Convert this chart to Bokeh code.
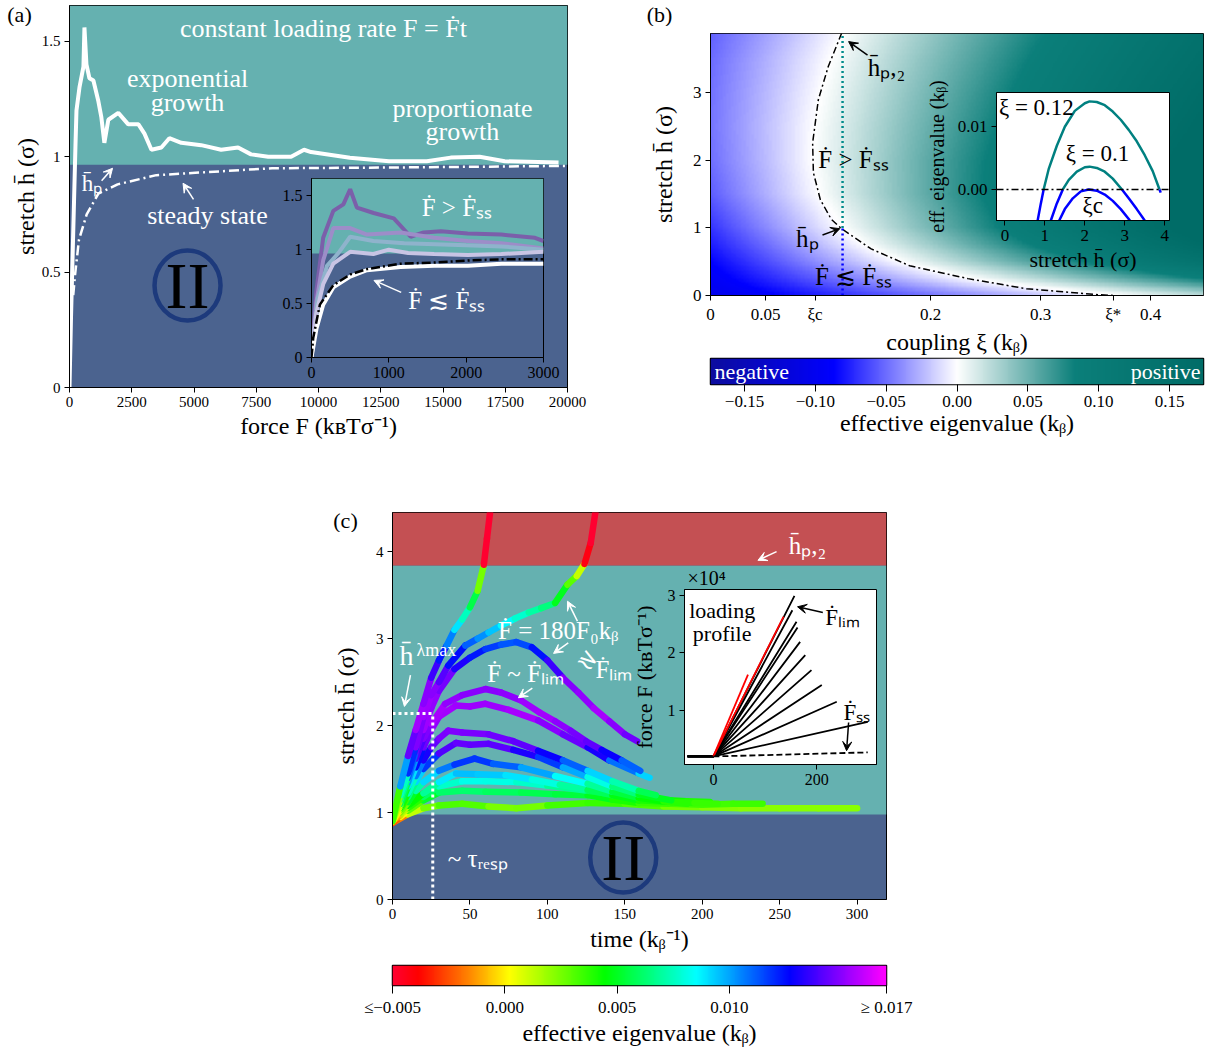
import numpy as np
from bokeh.plotting import figure
from bokeh.layouts import column
from bokeh.models import (Range1d, FixedTicker, Label, Arrow, VeeHead, BoxAnnotation,
                          Span, LinearColorMapper, ColumnDataSource)
from bokeh.transform import transform
from bokeh.embed import file_html
from bokeh.resources import INLINE

FONT = "Liberation Serif"
TEAL = "#65b1b0"
DBLUE = "#4b638f"
RED_BG = "#c45053"
NAVY = "#1d3a7c"
HB = "h\u0304"
FD = "\u1E1E"

# ---------------- panel (a) data ----------------
a_F = [0, 60, 120, 180, 240, 280, 400, 560, 600, 680, 800, 960, 1160, 1280, 1400, 1560, 1960,
       2360, 2770, 3010, 3290, 3690, 4010, 4490, 5290, 6090, 6770, 7290, 7980, 8900, 9420, 9700,
       11260, 12830, 14350, 15310, 16470, 17480, 19640]
a_h = [0, 0.3, 0.55, 0.8, 1.05, 1.2, 1.30, 1.39, 1.56, 1.40, 1.34, 1.33, 1.24, 1.17, 1.06, 1.16,
       1.19, 1.14, 1.14, 1.10, 1.03, 1.04, 1.08, 1.06, 1.05, 1.03, 1.04, 1.01, 1.00, 1.00, 1.03,
       1.02, 0.995, 0.98, 0.98, 0.996, 1.0, 0.98, 0.975]
ss_F = [150, 225, 380, 690, 1160, 1930, 3490, 5050, 8140, 12830, 20000]
ss_h = [0.40, 0.49, 0.64, 0.75, 0.84, 0.88, 0.92, 0.93, 0.95, 0.953, 0.96]
HP_A = 0.965
a_xticks = [0, 2500, 5000, 7500, 10000, 12500, 15000, 17500, 20000]
a_xlabels = ["0", "2500", "5000", "7500", "10000", "12500", "15000", "17500", "20000"]
a_yticks = [0, 0.5, 1, 1.5]
a_ylabels = ["0", "0.5", "1", "1.5"]

# inset (a)
ia_F_dp = [0, 60, 151, 282, 412, 500, 587, 803, 1064, 1282, 1450, 1673, 2020, 2455, 2890, 3000]
ia_h_dp = [0, 0.6, 1.11, 1.36, 1.42, 1.56, 1.39, 1.34, 1.29, 1.12, 1.16, 1.17, 1.15, 1.14, 1.11, 1.08]
ia_F_lp = [0, 60, 151, 282, 500, 717, 1152, 1586, 2020, 2455, 3000]
ia_h_lp = [0, 0.5, 0.9, 1.2, 1.2, 1.14, 1.16, 1.11, 1.08, 1.06, 1.01]
ia_F_tl = [0, 80, 200, 350, 500, 800, 1200, 1600, 2000, 2455, 3000]
ia_h_tl = [0, 0.55, 0.85, 0.97, 1.12, 1.08, 1.06, 1.05, 1.04, 1.03, 1.0]
ia_F_ll = [0, 60, 151, 282, 500, 800, 1000, 1250, 1586, 2020, 2455, 3000]
ia_h_ll = [0, 0.4, 0.68, 0.87, 0.98, 0.96, 1.0, 0.97, 0.96, 0.95, 0.96, 0.98]
ia_F_wh = [0, 65, 151, 282, 500, 717, 1152, 1586, 2020, 2455, 3000]
ia_h_wh = [0, 0.27, 0.49, 0.65, 0.75, 0.81, 0.84, 0.85, 0.85, 0.87, 0.87]
ia_F_ss = [0, 22, 108, 282, 500, 717, 1152, 1586, 2020, 2455, 3000]
ia_h_ss = [0, 0.18, 0.49, 0.67, 0.77, 0.82, 0.87, 0.88, 0.90, 0.91, 0.91]
ia_xticks = [0, 1000, 2000, 3000]
ia_xlabels = ["0", "1000", "2000", "3000"]

# ---------------- panel (b) data ----------------
XI_MAX = 0.448
H_MAX_B = 3.88
heat_xi = [0, 0.05, 0.1, 0.15, 0.2, 0.25, 0.3, 0.35, 0.4, 0.45]
heat_h = [0, 0.25, 0.5, 0.75, 1.0, 1.5, 2.0, 2.5, 3.0, 3.5, 3.9]
heat_vals = [
    [-0.103, -0.089, -0.075, -0.061, -0.047, -0.033, -0.019, -0.005, 0.010, 0.024],
    [-0.094, -0.074, -0.054, -0.034, -0.014, 0.006, 0.026, 0.046, 0.066, 0.086],
    [-0.086, -0.061, -0.036, -0.011, 0.014, 0.039, 0.064, 0.089, 0.114, 0.139],
    [-0.077, -0.050, -0.022, 0.006, 0.033, 0.061, 0.088, 0.116, 0.143, 0.171],
    [-0.069, -0.040, -0.011, 0.018, 0.047, 0.076, 0.105, 0.134, 0.163, 0.192],
    [-0.055, -0.027, 0.001, 0.029, 0.057, 0.085, 0.113, 0.141, 0.169, 0.197],
    [-0.049, -0.023, 0.004, 0.030, 0.057, 0.083, 0.110, 0.136, 0.163, 0.189],
    [-0.047, -0.022, 0.003, 0.028, 0.053, 0.078, 0.103, 0.128, 0.153, 0.178],
    [-0.048, -0.024, 0.000, 0.024, 0.048, 0.072, 0.096, 0.120, 0.144, 0.168],
    [-0.050, -0.027, -0.004, 0.019, 0.042, 0.065, 0.088, 0.111, 0.134, 0.157],
    [-0.054, -0.032, -0.009, 0.014, 0.036, 0.059, 0.081, 0.104, 0.126, 0.149],
]
contour_xi = [0.1192, 0.107, 0.098, 0.0928, 0.0935, 0.0998, 0.1097, 0.119, 0.146, 0.181, 0.234, 0.287, 0.354, 0.368]
contour_h = [3.886, 3.39, 2.9, 2.26, 1.82, 1.42, 1.13, 0.99, 0.69, 0.44, 0.25, 0.10, 0.01, 0.0]
XI_SEL = 0.12
HP_B = 1.0
b_xticks = [0, 0.05, 0.095, 0.2, 0.3, 0.366, 0.4]
b_xlabels = ["0", "0.05", "\u03bec", "0.2", "0.3", "\u03be*", "0.4"]
b_yticks = [0, 1, 2, 3]
b_ylabels = ["0", "1", "2", "3"]
CB_B_LOW, CB_B_HIGH = -0.174, 0.174
cbb_ticks = [-0.15, -0.10, -0.05, 0.0, 0.05, 0.10, 0.15]
cbb_labels = ["\u22120.15", "\u22120.10", "\u22120.05", "0.00", "0.05", "0.10", "0.15"]

# inset (b): effective eigenvalue vs stretch
ib_h_12_neg = [0.82, 0.9, 0.97]
ib_e_12_neg = [-0.0049, -0.0022, 0.0]
ib_h_12 = [0.97, 1.1, 1.3, 1.5, 1.75, 2.0, 2.12, 2.3, 2.5, 2.7, 2.9, 3.1, 3.3, 3.5, 3.7, 3.87]
ib_e_12 = [0.0, 0.0033, 0.0069, 0.0099, 0.0124, 0.0136, 0.0139, 0.0138, 0.0133, 0.0123, 0.0110,
           0.0094, 0.0076, 0.0054, 0.0029, 0.0]
ib_h_12_end = [3.87, 3.9]
ib_e_12_end = [0.0, -0.0005]
ib_h_10_negl = [1.15, 1.3, 1.45]
ib_e_10_negl = [-0.0049, -0.0022, 0.0]
ib_h_10 = [1.45, 1.6, 1.8, 2.0, 2.12, 2.3, 2.5, 2.7, 2.93]
ib_e_10 = [0.0, 0.0015, 0.0028, 0.0035, 0.0036, 0.0034, 0.0028, 0.0017, 0.0]
ib_h_10_negr = [2.93, 3.1, 3.3, 3.5]
ib_e_10_negr = [0.0, -0.0014, -0.0031, -0.0049]
ib_h_c = [1.36, 1.5, 1.7, 1.9, 2.1, 2.3, 2.5, 2.7, 2.9, 3.13]
ib_e_c = [-0.0049, -0.0031, -0.0014, -0.0003, 0.0, -0.0002, -0.0008, -0.0018, -0.0031, -0.0049]
ib_xticks = [0, 1, 2, 3, 4]
ib_xlabels = ["0", "1", "2", "3", "4"]
ib_yticks = [0.0, 0.01]
ib_ylabels = ["0.00", "0.01"]

# ---------------- panel (c) data ----------------
HP_C = 0.977
HP2_C = 3.84
H_LMAX = 2.14
TAU_RESP = 26
c_t_r1 = [0, 5, 10, 15, 20, 25, 30, 35, 40, 45, 50, 55, 59, 61, 63]
c_h_r1 = [0.9, 1.3, 1.65, 1.95, 2.25, 2.55, 2.75, 2.92, 3.1, 3.22, 3.36, 3.55, 3.85, 4.15, 4.45]
c_t_r2 = [0, 5, 10, 15, 20, 25, 30, 36, 47, 55, 62, 70, 79, 88, 96, 105, 113, 119, 124, 128, 131]
c_h_r2 = [0.9, 1.2, 1.45, 1.75, 2.1, 2.35, 2.5, 2.69, 2.92, 3.0, 3.07, 3.15, 3.23, 3.3, 3.35, 3.41,
          3.62, 3.72, 3.86, 4.1, 4.45]
c_t_3 = [0, 5, 10, 15, 20, 25, 30, 40, 50, 60, 70, 80, 90, 100, 110, 120, 130, 140, 150, 158]
c_h_3 = [0.9, 1.15, 1.4, 1.7, 1.95, 2.2, 2.4, 2.65, 2.78, 2.88, 2.93, 2.96, 2.9, 2.75, 2.55, 2.38,
         2.2, 2.05, 1.9, 1.82]
c_t_4 = [0, 5, 10, 15, 20, 25, 34, 45, 60, 70, 83, 95, 105, 115, 125, 135, 148, 160]
c_h_4 = [0.9, 1.1, 1.35, 1.62, 1.85, 2.02, 2.25, 2.35, 2.42, 2.38, 2.29, 2.15, 2.05, 1.94, 1.82,
         1.72, 1.6, 1.48]
c_t_5 = [0, 5, 10, 15, 20, 25, 30, 41, 50, 60, 75, 94, 110, 126, 140, 159, 166]
c_h_5 = [0.9, 1.08, 1.3, 1.52, 1.75, 1.95, 2.1, 2.23, 2.22, 2.25, 2.18, 2.06, 1.9, 1.75, 1.6, 1.45, 1.4]
c_t_6 = [0, 5, 10, 15, 20, 25, 30, 36, 45, 62, 78, 94, 110, 126, 142, 159, 170]
c_h_6 = [0.9, 1.05, 1.22, 1.42, 1.6, 1.75, 1.85, 1.94, 1.92, 1.9, 1.82, 1.71, 1.6, 1.48, 1.36, 1.25, 1.2]
c_t_7 = [0, 5, 10, 15, 20, 30, 41, 50, 62, 78, 94, 110, 126, 142, 159, 180]
c_h_7 = [0.9, 1.03, 1.18, 1.35, 1.5, 1.68, 1.8, 1.78, 1.79, 1.72, 1.64, 1.52, 1.41, 1.3, 1.21, 1.14]
c_t_8 = [0, 5, 10, 15, 20, 30, 40, 53, 65, 83, 105, 126, 142, 159, 175, 190]
c_h_8 = [0.9, 1.0, 1.12, 1.25, 1.35, 1.48, 1.55, 1.62, 1.56, 1.52, 1.42, 1.33, 1.24, 1.17, 1.13, 1.1]
c_t_9 = [0, 5, 10, 20, 30, 41, 55, 73, 90, 108, 126, 142, 159, 180, 195, 210]
c_h_9 = [0.9, 0.98, 1.08, 1.22, 1.35, 1.45, 1.44, 1.43, 1.38, 1.32, 1.26, 1.2, 1.14, 1.12, 1.11, 1.1]
c_t_10 = [0, 5, 10, 20, 30, 45, 60, 80, 100, 126, 150, 170, 190, 205]
c_h_10 = [0.9, 0.97, 1.05, 1.18, 1.3, 1.36, 1.36, 1.35, 1.31, 1.25, 1.19, 1.15, 1.13, 1.12]
c_t_11 = [0, 5, 10, 20, 30, 45, 60, 83, 105, 126, 142, 159, 180, 200, 220, 239]
c_h_11 = [0.88, 0.95, 1.02, 1.14, 1.23, 1.25, 1.24, 1.23, 1.21, 1.2, 1.15, 1.11, 1.1, 1.09, 1.1, 1.1]
c_t_12 = [0, 10, 20, 30, 45, 62, 80, 100, 126, 150, 175, 200, 225, 250, 275, 300]
c_h_12 = [0.88, 0.98, 1.05, 1.08, 1.1, 1.07, 1.05, 1.08, 1.11, 1.1, 1.07, 1.06, 1.05, 1.05, 1.05, 1.05]
# eigenvalue along the stretch axis used for colouring the trajectories
lut_h = [0.8, 0.9, 0.97, 1.1, 1.3, 1.5, 1.75, 2.12, 2.5, 2.9, 3.3, 3.6, 3.87, 4.0, 4.45]
lut_e = [-0.006, -0.003, 0.0, 0.0035, 0.0072, 0.0105, 0.0142, 0.0155, 0.0148, 0.0118, 0.0074,
         0.0040, 0.0, -0.005, -0.008]
c_xticks = [0, 50, 100, 150, 200, 250, 300]
c_xlabels = ["0", "50", "100", "150", "200", "250", "300"]
c_yticks = [0, 1, 2, 3, 4]
c_ylabels = ["0", "1", "2", "3", "4"]
CB_C_LOW, CB_C_HIGH = -0.005, 0.017
cbc_ticks = [-0.005, 0.0, 0.005, 0.010, 0.017]
cbc_labels = ["\u2264\u22120.005", "0.000", "0.005", "0.010", "\u2265 0.017"]

# inset (c): loading profiles (force in units of 1e4)
T_FLAT = -50
F_FLAT = 0.2
lp_t_end = [157, 153, 161, 163, 168, 178, 190, 210, 239, 299]
lp_F_end = [2.99, 2.74, 2.54, 2.44, 2.19, 1.96, 1.70, 1.44, 1.15, 0.80]
lp_red_t_end = [136, 67]
lp_red_F_end = [2.63, 1.62]
lp_ss_t_end = 299
lp_ss_F_end = 0.27
ic_xticks = [0, 200]
ic_xlabels = ["0", "200"]
ic_yticks = [1, 2, 3]
ic_ylabels = ["1", "2", "3"]


# ---------------- helpers ----------------
def ramp(anchors, n=256):
    pos = [a[0] for a in anchors]
    rgb = [tuple(int(a[1][i:i + 2], 16) for i in (1, 3, 5)) for a in anchors]
    out = []
    for k in range(n):
        t = k / (n - 1)
        c = [int(round(np.interp(t, pos, [r[j] for r in rgb]))) for j in range(3)]
        out.append("#%02x%02x%02x" % tuple(c))
    return out


PAL_B = ramp([(0.0, "#0c0c9e"), (0.25, "#0000ff"), (0.5, "#ffffff"), (0.74, "#0b7f7a"), (1.0, "#006c67")])
PAL_C = ramp([(0.0, "#ff0030"), (0.05, "#ff0000"), (0.15, "#ff8000"), (0.235, "#ffff00"),
              (0.43, "#00ff00"), (0.615, "#00ffff"), (0.805, "#0000ff"), (1.0, "#ff00ff")])
cmap_b = LinearColorMapper(palette=PAL_B, low=CB_B_LOW, high=CB_B_HIGH)
cmap_c = LinearColorMapper(palette=PAL_C, low=CB_C_LOW, high=CB_C_HIGH)

BL, BR = 80, 40   # common left / right borders (frames are aligned by the column)


def make_fig(frame, tb, xr, yr, tick_size=15, **kw):
    x0, y0, x1, y1 = frame
    t, b = tb
    p = figure(width=x1 - x0 + BL + BR, height=y1 - y0 + t + b,
               x_range=Range1d(*xr), y_range=Range1d(*yr),
               min_border_left=BL, min_border_top=t, min_border_right=BR, min_border_bottom=b,
               output_backend="svg", toolbar_location=None, **kw)
    p.styles = {"position": "absolute", "left": f"{x0 - BL}px", "top": f"{y0 - t}px"}
    p.border_fill_alpha = 0
    p.grid.visible = False
    p.outline_line_color = "black"
    p.outline_line_alpha = 1
    p.outline_line_width = 1
    for ax in p.axis:
        ax.major_label_text_font = FONT
        ax.major_label_text_font_size = f"{tick_size}px"
        ax.major_label_text_color = "black"
        ax.axis_label_text_font = FONT
        ax.axis_label_text_font_size = "24px"
        ax.axis_label_text_font_style = "normal"
        ax.axis_label_text_color = "black"
        ax.minor_tick_line_color = None
        ax.major_tick_out = 5
        ax.major_tick_in = 0
        ax.major_label_standoff = 4
        ax.axis_line_color = "black"
    return p


def text_box(frame, text, size, align="center"):
    """A small axis-less canvas that carries a text placed outside the panels' frames."""
    p = make_fig(frame, (0, 0), (0, 1), (0, 1), x_axis_type=None, y_axis_type=None)
    p.background_fill_alpha = 0
    p.outline_line_color = None
    p.add_layout(Label(x=0.5 if align == "center" else 0.0, y=0.5, text=text, text_font=FONT,
                       text_font_size=f"{size}px", text_color="black", text_align=align,
                       text_baseline="middle"))
    return p


def set_ticks(ax, ticks, labels):
    ax.ticker = FixedTicker(ticks=list(ticks))
    ax.major_label_overrides = {t: s for t, s in zip(ticks, labels)}


def label(p, x, y, text, size, color, align="center", angle=0.0, x_offset=0):
    p.add_layout(Label(x=x, y=y, text=text, text_font=FONT, text_font_size=f"{size}px",
                       text_color=color, text_align=align, text_baseline="middle",
                       angle=angle, x_offset=x_offset))


def arrow(p, xs, ys, xe, ye, color, lw=1.5):
    p.add_layout(Arrow(x_start=xs, y_start=ys, x_end=xe, y_end=ye, line_color=color,
                       line_width=lw, end=VeeHead(size=9, fill_color=color, line_color=color)))


# ---------------- panel (a) ----------------
pA = make_fig((69, 5, 567, 387), (5, 62), (0, 20000), (0, 1.655))
pA.background_fill_color = DBLUE
pA.add_layout(BoxAnnotation(bottom=HP_A, fill_color=TEAL, fill_alpha=1, line_alpha=0, level="underlay"))
pA.line(a_F, a_h, line_color="white", line_width=4)
pA.line(ss_F, ss_h, line_color="white", line_width=2.5, line_dash="10 4 2 4")
set_ticks(pA.xaxis[0], a_xticks, a_xlabels)
set_ticks(pA.yaxis[0], a_yticks, a_ylabels)
pA.xaxis.axis_label = "force F (k\u0299T\u03c3\u207b\u00b9)"
pA.xaxis.axis_label_standoff = 3
pA.yaxis.axis_label = f"stretch {HB} (\u03c3)"
pA.yaxis.axis_label_standoff = 0
label(pA, 10200, 1.554, f"constant loading rate F = {FD}t", 26, "white")
label(pA, 4740, 1.338, "exponential", 26, "white")
label(pA, 4740, 1.234, "growth", 26, "white")
label(pA, 15780, 1.208, "proportionate", 26, "white")
label(pA, 15780, 1.108, "growth", 26, "white")
label(pA, 5540, 0.745, "steady state", 26, "white")
label(pA, 900, 0.885, f"{HB}\u209a", 23, "white")
arrow(pA, 1290, 0.896, 1730, 0.95, "white")
arrow(pA, 4980, 0.815, 4560, 0.885, "white")
pA.ellipse(x=[4740], y=[0.442], width=66, height=70, width_units="screen", height_units="screen",
           fill_alpha=0, line_color=NAVY, line_width=4.5)
label(pA, 4740, 0.442, "II", 66, "black")

# inset (a)
pIA = make_fig((311, 178, 543, 357), (5, 32), (0, 3000), (0, 1.66), tick_size=16)
pIA.background_fill_color = DBLUE
pIA.add_layout(BoxAnnotation(bottom=HP_A, fill_color=TEAL, fill_alpha=1, line_alpha=0, level="underlay"))
pIA.line(ia_F_dp, ia_h_dp, line_color="#7b5faa", line_width=4)
pIA.line(ia_F_lp, ia_h_lp, line_color="#9d8dc8", line_width=4)
pIA.line(ia_F_tl, ia_h_tl, line_color="#8fb3cc", line_width=4)
pIA.line(ia_F_ll, ia_h_ll, line_color="#c8c4e4", line_width=4)
pIA.line(ia_F_wh, ia_h_wh, line_color="white", line_width=4)
pIA.line(ia_F_ss, ia_h_ss, line_color="black", line_width=2.5, line_dash="9 3 2 3")
set_ticks(pIA.xaxis[0], ia_xticks, ia_xlabels)
set_ticks(pIA.yaxis[0], a_yticks, a_ylabels)
label(pIA, 1880, 1.39, f"{FD} > {FD}\u209b\u209b", 25, "white")
label(pIA, 1750, 0.53, f"{FD} \u2272 {FD}\u209b\u209b", 25, "white")
arrow(pIA, 1160, 0.604, 808, 0.715, "white")

# ---------------- panel (b) ----------------
pB = make_fig((710, 33, 1203, 297), (33, 60), (0, XI_MAX), (0, H_MAX_B), tick_size=17)
xi_fine = np.linspace(0, XI_MAX, 300)
h_fine = np.linspace(0, H_MAX_B, 200)
hv = np.array(heat_vals)
rows = np.array([np.interp(xi_fine, heat_xi, r) for r in hv])
field = np.array([np.interp(h_fine, heat_h, rows[:, j]) for j in range(len(xi_fine))]).T
pB.image(image=[field], x=0, y=0, dw=XI_MAX, dh=H_MAX_B, color_mapper=cmap_b)
pB.line(contour_xi, contour_h, line_color="black", line_width=1.5, line_dash="7 3 2 3")
pB.segment(x0=[XI_SEL], y0=[HP_B], x1=[XI_SEL], y1=[H_MAX_B], line_color="#008b8b",
           line_width=2.5, line_dash="2 3")
pB.segment(x0=[XI_SEL], y0=[0], x1=[XI_SEL], y1=[HP_B], line_color="#0000ff",
           line_width=2.5, line_dash="2 3")
set_ticks(pB.xaxis[0], b_xticks, b_xlabels)
set_ticks(pB.yaxis[0], b_yticks, b_ylabels)
pB.xaxis.axis_label = "coupling \u03be (k\u1d66)"
pB.xaxis.axis_label_standoff = 2
pB.yaxis.axis_label = f"stretch {HB} (\u03c3)"
pB.yaxis.axis_label_standoff = 13
label(pB, 0.130, 2.01, f"{FD} > {FD}\u209b\u209b", 25, "black")
label(pB, 0.130, 0.28, f"{FD} \u2272 {FD}\u209b\u209b", 25, "black")
label(pB, 0.143, 3.38, f"{HB}\u209a,\u2082", 25, "black", align="left")
arrow(pB, 0.1427, 3.56, 0.1255, 3.76, "black")
label(pB, 0.088, 0.84, f"{HB}\u209a", 25, "black")
arrow(pB, 0.1018, 0.897, 0.1175, 0.99, "black")

# colourbar (b)
pCB = make_fig((710, 358, 1203, 384), (4, 62), (CB_B_LOW, CB_B_HIGH), (0, 1), tick_size=17,
               y_axis_type=None)
pCB.image(image=[np.linspace(CB_B_LOW, CB_B_HIGH, 512)[None, :]], x=CB_B_LOW, y=0,
          dw=CB_B_HIGH - CB_B_LOW, dh=1, color_mapper=cmap_b)
set_ticks(pCB.xaxis[0], cbb_ticks, cbb_labels)
pCB.xaxis.major_tick_out = 7
pCB.xaxis.axis_line_color = None
pCB.xaxis.axis_label = "effective eigenvalue (k\u1d66)"
pCB.xaxis.axis_label_standoff = 0
pCB.outline_line_width = 1.5
label(pCB, CB_B_LOW, 0.5, "negative", 22, "white", align="left", x_offset=4)
label(pCB, CB_B_HIGH, 0.5, "positive", 22, "white", align="right", x_offset=-3)

# inset (b)
pIB = make_fig((996, 92, 1169, 222), (22, 52), (-0.21, 4.12), (-0.0049, 0.0153), tick_size=17)
pIB.background_fill_color = "white"
pIB.add_layout(Span(location=0, dimension="width", line_color="black", line_width=1.5,
                    line_dash="7 3 2 3"))
for hh, ee, col in [(ib_h_12_neg, ib_e_12_neg, "#0000ff"), (ib_h_12, ib_e_12, "#008080"),
                    (ib_h_12_end, ib_e_12_end, "#0000ff"), (ib_h_10_negl, ib_e_10_negl, "#0000ff"),
                    (ib_h_10, ib_e_10, "#008080"), (ib_h_10_negr, ib_e_10_negr, "#0000ff"),
                    (ib_h_c, ib_e_c, "#0000ff")]:
    pIB.line(hh, ee, line_color=col, line_width=2.5)
set_ticks(pIB.xaxis[0], ib_xticks, ib_xlabels)
set_ticks(pIB.yaxis[0], ib_yticks, ib_ylabels)
pIB.xaxis.axis_label = f"stretch {HB} (\u03c3)"
pIB.xaxis.axis_label_text_font_size = "22px"
pIB.xaxis.axis_label_standoff = 3
pIB.yaxis.axis_label = "eff. eigenvalue (k\u1d66)"
pIB.yaxis.axis_label_text_font_size = "20px"
pIB.yaxis.axis_label_standoff = 7
label(pIB, -0.15, 0.0129, "\u03be = 0.12", 23, "black", align="left")
label(pIB, 2.32, 0.0056, "\u03be = 0.1", 23, "black")
label(pIB, 2.2, -0.0026, "\u03bec", 23, "black")

# ---------------- panel (c) ----------------
pC = make_fig((392, 512, 886, 899), (8, 60), (0, 319), (0, 4.45))
pC.background_fill_color = DBLUE
pC.add_layout(BoxAnnotation(bottom=HP_C, top=HP2_C, fill_color=TEAL, fill_alpha=1, line_alpha=0,
                            level="underlay"))
pC.add_layout(BoxAnnotation(bottom=HP2_C, fill_color=RED_BG, fill_alpha=1, line_alpha=0,
                            level="underlay"))
curves = [(c_t_12, c_h_12), (c_t_11, c_h_11), (c_t_10, c_h_10), (c_t_9, c_h_9), (c_t_8, c_h_8),
          (c_t_7, c_h_7), (c_t_6, c_h_6), (c_t_5, c_h_5), (c_t_4, c_h_4), (c_t_3, c_h_3),
          (c_t_r2, c_h_r2), (c_t_r1, c_h_r1)]
seg = {"x0": [], "y0": [], "x1": [], "y1": [], "eig": []}
for tt, hh in curves:
    tt = np.array(tt, float)
    hh = np.array(hh, float)
    seg["x0"] += list(tt[:-1])
    seg["x1"] += list(tt[1:])
    seg["y0"] += list(hh[:-1])
    seg["y1"] += list(hh[1:])
    seg["eig"] += list(np.interp(0.5 * (hh[:-1] + hh[1:]), lut_h, lut_e))
pC.segment("x0", "y0", "x1", "y1", source=ColumnDataSource(seg),
           line_color=transform("eig", cmap_c), line_width=6.5, line_cap="round")
pC.segment(x0=[0], y0=[H_LMAX], x1=[TAU_RESP], y1=[H_LMAX], line_color="white", line_width=3,
           line_dash="3 3")
pC.segment(x0=[TAU_RESP], y0=[0], x1=[TAU_RESP], y1=[H_LMAX], line_color="white", line_width=3,
           line_dash="3 3")
set_ticks(pC.xaxis[0], c_xticks, c_xlabels)
set_ticks(pC.yaxis[0], c_yticks, c_ylabels)
pC.xaxis.axis_label = "time (k\u1d66\u207b\u00b9)"
pC.xaxis.axis_label_standoff = 4
pC.yaxis.axis_label = f"stretch {HB} (\u03c3)"
pC.yaxis.axis_label_standoff = 14
label(pC, 9.0, 2.80, HB, 28, "white")
label(pC, 15.5, 2.87, "\u03bbmax", 18, "white", align="left")
arrow(pC, 11.6, 2.58, 7.7, 2.22, "white")
label(pC, 55, 0.47, "~ \u03c4\u1d63\u2091\u209b\u209a", 25, "white")
label(pC, 107, 3.09, f"{FD} = 180F\u2080k\u1d66", 25, "white")
arrow(pC, 119.4, 3.2, 113, 3.43, "white")
label(pC, 127, 2.76, "\u2273", 24, "white", angle=-0.6)
label(pC, 143, 2.65, f"{FD}\u2097\u1d62\u2098", 25, "white")
arrow(pC, 113.5, 2.95, 104, 2.83, "white")
label(pC, 86, 2.6, f"{FD} ~ {FD}\u2097\u1d62\u2098", 25, "white")
arrow(pC, 90.3, 2.43, 81.3, 2.32, "white")
label(pC, 268, 4.07, f"{HB}\u209a,\u2082", 25, "white")
arrow(pC, 248, 4.0, 236, 3.9, "white")
pC.ellipse(x=[149], y=[0.483], width=66, height=70, width_units="screen", height_units="screen",
           fill_alpha=0, line_color=NAVY, line_width=4.5)
label(pC, 149, 0.483, "II", 66, "black")

# colourbar (c)
pCC = make_fig((392, 965, 886, 990), (3, 58), (CB_C_LOW, CB_C_HIGH), (0, 1), tick_size=17,
               y_axis_type=None)
pCC.image(image=[np.linspace(CB_C_LOW, CB_C_HIGH, 512)[None, :]], x=CB_C_LOW, y=0,
          dw=CB_C_HIGH - CB_C_LOW, dh=1, color_mapper=cmap_c)
set_ticks(pCC.xaxis[0], cbc_ticks, cbc_labels)
pCC.xaxis.major_tick_out = 8
pCC.xaxis.axis_line_color = None
pCC.xaxis.axis_label = "effective eigenvalue (k\u1d66)"
pCC.xaxis.axis_label_standoff = 0
pCC.outline_line_width = 1.5

# inset (c)
pIC = make_fig((684, 589, 876, 764), (20, 30), (-56, 316), (0.06, 3.1), tick_size=16)
pIC.background_fill_color = "white"
xs_b = [[T_FLAT, 0, te] for te in lp_t_end]
ys_b = [[F_FLAT, F_FLAT, fe] for fe in lp_F_end]
pIC.multi_line(xs_b, ys_b, line_color="black", line_width=1.8)
pIC.multi_line([[0, te] for te in lp_red_t_end], [[F_FLAT, fe] for fe in lp_red_F_end],
               line_color="#ff0000", line_width=1.8)
pIC.line([0, lp_ss_t_end], [F_FLAT, lp_ss_F_end], line_color="black", line_width=1.8, line_dash="6 3")
set_ticks(pIC.xaxis[0], ic_xticks, ic_xlabels)
set_ticks(pIC.yaxis[0], ic_yticks, ic_ylabels)
pIC.yaxis.axis_label = "force F (k\u0299T\u03c3\u207b\u00b9)"
pIC.yaxis.axis_label_text_font_size = "22px"
pIC.yaxis.axis_label_standoff = 8
label(pIC, 17, 2.74, "loading", 22, "black")
label(pIC, 17, 2.34, "profile", 22, "black")
label(pIC, 250, 2.62, f"{FD}\u2097\u1d62\u2098", 23, "black")
arrow(pIC, 212, 2.70, 163, 2.80, "black")
label(pIC, 278, 0.965, f"{FD}\u209b\u209b", 23, "black")
arrow(pIC, 262, 0.79, 258, 0.30, "black")

# panel letters and the inset's scale factor (they sit outside every frame)
tA = text_box((2, 2, 36, 26), "(a)", 22)
tB = text_box((642, 2, 676, 26), "(b)", 22)
tC = text_box((328, 508, 362, 532), "(c)", 22)
tX = text_box((687, 564, 747, 590), "\u00d710\u2074", 20, align="left")

root = column(pA, pB, pCB, pC, pCC, pIA, pIB, pIC, tA, tB, tC, tX, width=1206, height=1053,
              styles={"position": "relative", "overflow": "hidden"})
open("out.html", "w").write(file_html(root, INLINE))
